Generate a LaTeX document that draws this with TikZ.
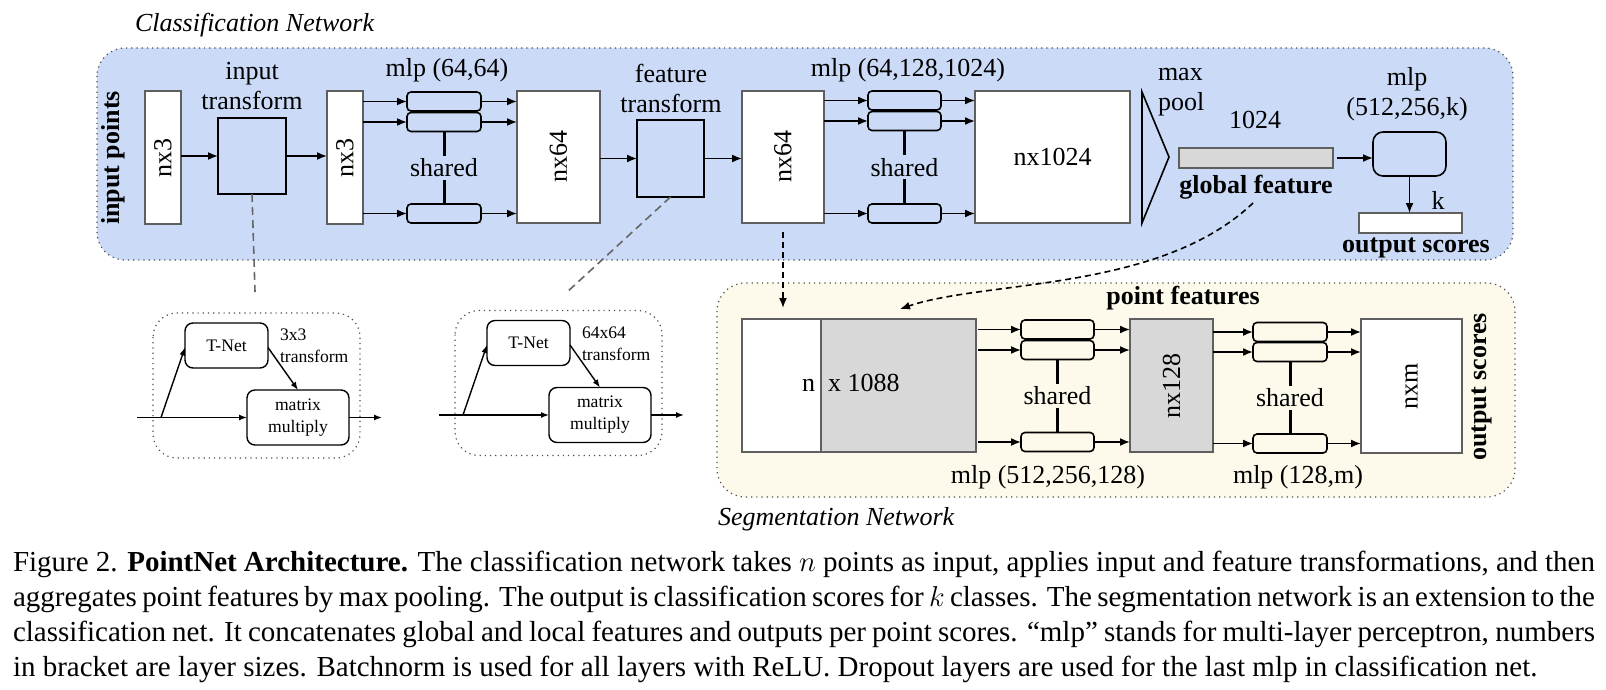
\documentclass[tikz,border=0pt]{standalone}
\usepackage{fontspec}
\setmainfont{Liberation Serif}
\usepackage{graphicx}
\usetikzlibrary{arrows.meta,calc}

\definecolor{clsblue}{RGB}{202,218,247}
\definecolor{segcream}{RGB}{253,250,235}
\definecolor{featgray}{RGB}{216,216,216}
\definecolor{boxgray}{RGB}{95,95,95}

\begin{document}
\begin{tikzpicture}[x=0.5pt, y=-0.5pt,
        font=\fontsize{13}{15}\selectfont,
        every node/.style={inner sep=0pt, outer sep=0pt},
        arr/.style={-{Latex[length=5pt, width=4pt]}, line width=0.8pt},
        tarr/.style={-{Latex[length=4pt, width=3pt]}, line width=0.7pt},
        datbox/.style={draw=boxgray, line width=0.8pt, fill=white},
        featbox/.style={datbox, fill=featgray},
        trbox/.style={draw, line width=0.8pt},
        mlpbox/.style={draw, line width=0.8pt, rounded corners=2pt, minimum height=9.5pt},
        tnbox/.style={draw, line width=0.7pt, rounded corners=4pt},
        netframe/.style={draw=black!70, line width=0.6pt, dotted, rounded corners=14pt},
        tframe/.style={draw=black!70, line width=0.6pt, dotted, rounded corners=12pt},
        sharedline/.style={line width=1.5pt},
        linkline/.style={draw=black!60, line width=0.8pt, dash pattern=on 4pt off 2.5pt},
        droparrow/.style={arr, dash pattern=on 3pt off 2pt},
    ]
        \useasboundingbox (0,0) rectangle (1606,690);

        % frames
        \draw[netframe, fill=clsblue] (97,48) rectangle (1513,260);
        \draw[netframe, fill=segcream] (717,283) rectangle (1515,497);
        \node[anchor=base west, font=\fontsize{13}{15}\selectfont\itshape] (clstitle) at (135,32) {Classification Network};
        \node[anchor=base west, font=\fontsize{13}{15}\selectfont\itshape] (segtitle) at (718,525) {Segmentation Network};

        % classification network
        \node (inpts) at (113,158) {\rotatebox{90}{\textbf{input points}}};
        \node[datbox, minimum width=18pt, minimum height=66.5pt] (nx3a) at (163,157.5) {\rotatebox{90}{nx3}};
        \node[trbox, minimum width=34pt, minimum height=38pt] (itrans) at (252,156) {};
        \node[align=center] (itlab) at (252,86) {input\\transform};
        \node[datbox, minimum width=18pt, minimum height=66.5pt] (nx3b) at (345,157.5) {\rotatebox{90}{nx3}};

        \node[mlpbox, minimum width=37pt] (mlpa1) at (444,101.5) {};
        \node[mlpbox, minimum width=37pt] (mlpa2) at (444,122) {};
        \node[mlpbox, minimum width=37pt] (mlpa3) at (444,213.5) {};
        \node (mlpalab) at (447,70) {mlp (64,64)};

        \node[datbox, minimum width=41.5pt, minimum height=66pt] (nx64a) at (558.5,157) {\rotatebox{90}{nx64}};
        \node[trbox, minimum width=33.5pt, minimum height=38.5pt] (ftrans) at (670.5,158.5) {};
        \node[align=center] (ftlab) at (671,88) {feature\\transform};
        \node[datbox, minimum width=41pt, minimum height=66pt] (nx64b) at (783,157) {\rotatebox{90}{nx64}};

        \node[mlpbox, minimum width=36.5pt] (mlpb1) at (904.5,100.5) {};
        \node[mlpbox, minimum width=36.5pt] (mlpb2) at (904.5,121) {};
        \node[mlpbox, minimum width=36.5pt] (mlpb3) at (904.5,213.5) {};
        \node (mlpblab) at (908,70) {mlp (64,128,1024)};

        \node[datbox, minimum width=77.5pt, minimum height=66pt] (nx1024) at (1052.5,157) {nx1024};
        \draw[line width=0.8pt] (1142,92) -- (1169,157) -- (1142,223) -- cycle;
        \node[anchor=west, align=left] (mplab) at (1158,92) {max\\pool};

        \node (gfdim) at (1255,120) {1024};
        \node[featbox, minimum width=77pt, minimum height=10pt] (gfeat) at (1256,158) {};
        \node[font=\fontsize{13}{15}\selectfont\bfseries] (gflab) at (1256,187) {global feature};

        \node[draw, line width=0.8pt, rounded corners=5pt, minimum width=36.5pt, minimum height=22pt] (mlpc) at (1409.5,154) {};
        \node[align=center] (mlpclab) at (1407,94) {mlp\\(512,256,k)};
        \node[datbox, minimum width=51.5pt, minimum height=10pt] (outcls) at (1410.5,223) {};
        \node (klab) at (1438,200) {k};
        \node[font=\fontsize{13}{15}\selectfont\bfseries] (outlab) at (1416,248) {output scores};

        \draw[arr] (nx3a.east |- itrans) -- (itrans.west);
        \draw[arr] (itrans.east) -- (itrans.east -| nx3b.west);
        \foreach \b in {mlpa1,mlpa2,mlpa3} {
            \draw[arr] (nx3b.east |- \b) -- (\b.west);
            \draw[arr] (\b.east) -- (\b -| nx64a.west);
        }
        \draw[sharedline] (mlpa2.south) -- node[fill=clsblue, inner sep=1.5pt] (shra) {shared} (mlpa3.north);
        \draw[arr] (nx64a.east |- ftrans) -- (ftrans.west);
        \draw[arr] (ftrans.east) -- (ftrans.east -| nx64b.west);
        \foreach \b in {mlpb1,mlpb2,mlpb3} {
            \draw[arr] (nx64b.east |- \b) -- (\b.west);
            \draw[arr] (\b.east) -- (\b -| nx1024.west);
        }
        \draw[sharedline] (mlpb2.south) -- node[fill=clsblue, inner sep=1.5pt] (shrb) {shared} (mlpb3.north);
        \draw[arr] ([xshift=2pt]gfeat.east) -- (gfeat.east -| mlpc.west);
        \draw[arr] (mlpc.south) -- (mlpc.south |- outcls.north);

        % transform nets
        \foreach \g/\dx/\dy/\tsize in {1/0/0/3x3, 2/302/-2.5/64x64} {
            \begin{scope}[shift={(\dx,\dy)}, font=\fontsize{8.8}{11}\selectfont]
                \draw[tframe] (153,313) rectangle (360,458);
                \node[tnbox, minimum width=41.5pt, minimum height=22.5pt] (tnet\g) at (226.5,345.5) {T-Net};
                \node[tnbox, minimum width=51pt, minimum height=27.5pt, align=center] (mm\g) at (298,417.5) {matrix\\multiply};
                \node[anchor=west, align=left] (tsz\g) at (280,346) {\tsize\\transform};
                \coordinate (tin\g) at (137,417.5);
                \coordinate (tbr\g) at (161,417.5);
                \coordinate (tout\g) at (382,417.5);
                \draw[line width=0.7pt] (tin\g) -- (tbr\g);
                \draw[tarr] (tbr\g) -- (mm\g.west);
                \draw[tarr] (tbr\g) -- ([yshift=-1pt]tnet\g.west);
                \draw[tarr] ([yshift=-1pt]tnet\g.east) -- (mm\g.north);
                \draw[tarr] (mm\g.east) -- (tout\g);
            \end{scope}
        }
        \coordinate (tn1link) at (255,292);
        \coordinate (tn2link) at (566,293);
        \draw[linkline] (itrans.south) -- (tn1link);
        \draw[linkline] (ftrans.south) -- (tn2link);

        % segmentation network
        \node[datbox, minimum width=39.5pt, minimum height=66.5pt] (catw) at (781.5,385.5) {};
        \node[featbox, minimum width=77.5pt, minimum height=66.5pt] (catg) at (898.5,385.5) {};
        \node[anchor=base east] (catn) at (815,391) {n};
        \node[anchor=base west] (catdim) at (828,391) {x 1088};
        \node[font=\fontsize{13}{15}\selectfont\bfseries] (pflab) at (1183,298) {point features};

        \node[mlpbox, minimum width=36.5pt] (mlps1) at (1057.5,329.5) {};
        \node[mlpbox, minimum width=36.5pt] (mlps2) at (1057.5,350) {};
        \node[mlpbox, minimum width=36.5pt] (mlps3) at (1057.5,442) {};
        \node (mlpslab) at (1048,477) {mlp (512,256,128)};
        \node[featbox, minimum width=41.5pt, minimum height=66.5pt] (nx128) at (1171.5,385.5) {\rotatebox{90}{nx128}};

        \node[mlpbox, minimum width=37pt] (mlpt1) at (1290,332) {};
        \node[mlpbox, minimum width=37pt] (mlpt2) at (1290,352) {};
        \node[mlpbox, minimum width=37pt] (mlpt3) at (1290,443.5) {};
        \node (mlptlab) at (1298,477) {mlp (128,m)};
        \node[datbox, minimum width=50.5pt, minimum height=67pt] (nxm) at (1411.5,386) {\rotatebox{90}{nxm}};
        \node (segout) at (1482,387) {\rotatebox{90}{\textbf{output scores}}};

        \foreach \b in {mlps1,mlps2,mlps3} {
            \draw[arr] ([xshift=1pt]catg.east |- \b) -- (\b.west);
            \draw[arr] (\b.east) -- (\b -| nx128.west);
        }
        \draw[sharedline] (mlps2.south) -- node[fill=segcream, inner sep=1.5pt] (shrs) {shared} (mlps3.north);
        \foreach \b in {mlpt1,mlpt2,mlpt3} {
            \draw[arr] (nx128.east |- \b) -- (\b.west);
            \draw[arr] (\b.east) -- (\b -| nxm.west);
        }
        \draw[sharedline] (mlpt2.south) -- node[fill=segcream, inner sep=1.5pt] (shrt) {shared} (mlpt3.north);

        % links between the networks
        \coordinate (catdrop) at (783,308);
        \coordinate (gfdrop) at (1253,203);
        \coordinate (catin) at (900,309);
        \draw[droparrow] ([yshift=-4.5pt]nx64b.south) -- (catdrop);
        \draw[droparrow] (gfdrop) .. controls (1160,292) and (985,280) .. (catin);

        % caption
        \node[anchor=north west, text width=791pt, align=justify, font=\fontsize{14.5}{17.5}\selectfont] (caption) at (13,551) {\noindent Figure 2. \textbf{PointNet Architecture.} The classification network takes $n$ points as input, applies input and feature transformations, and then\linebreak aggregates point features by max pooling. The output is classification scores for $k$ classes. The segmentation network is an extension to the\linebreak classification net. It concatenates global and local features and outputs per point scores. ``mlp'' stands for multi-layer perceptron, numbers\linebreak in bracket are layer sizes. Batchnorm is used for all layers with ReLU. Dropout layers are used for the last mlp in classification net.};
    \end{tikzpicture}
\end{document}
